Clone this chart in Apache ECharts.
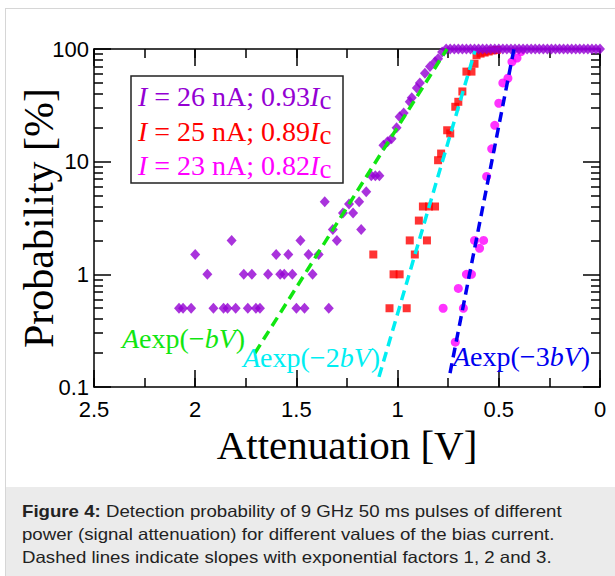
<!DOCTYPE html>
<html><head><meta charset="utf-8">
<script src="https://cdn.jsdelivr.net/npm/echarts@6/dist/echarts.min.js"></script>
<style>
html,body{margin:0;padding:0;width:615px;height:576px;overflow:hidden;background:#fff;}
#frame{position:absolute;left:5px;top:8px;width:640px;height:600px;border-left:1px solid #d6d6d6;border-top:1px solid #d6d6d6;}
#chart{position:absolute;left:0;top:0;width:615px;height:487px;}
#capbox{position:absolute;left:6px;top:487px;width:609px;height:89px;background:#ebebeb;}
#caption{position:absolute;left:22px;top:500px;font-family:'Liberation Sans',Arial,sans-serif;font-size:16.5px;line-height:23px;color:#222;white-space:nowrap;transform:scaleX(1.13);transform-origin:0 0;}
</style></head>
<body>
<div id="frame"></div>
<div id="chart"></div>
<div id="capbox"></div>
<div id="caption"><b>Figure 4:</b> Detection probability of 9 GHz 50 ms pulses of different<br>power (signal attenuation) for different values of the bias current.<br>Dashed lines indicate slopes with exponential factors 1, 2 and 3.</div>
<script>
// ---- data (attenuation V, probability %) ----
const purpleI26 = [
 [2.08,0.5],[2.06,0.5],[2.02,0.5],[1.91,0.5],[1.86,0.5],[1.84,0.5],[1.80,0.5],[1.74,0.5],[1.70,0.5],[1.68,0.5],[1.50,0.5],[1.46,0.5],[1.34,0.5],
 [1.94,1],[1.76,1],[1.72,1],[1.64,1],[1.58,1],[1.56,1],[1.52,1],[1.42,1],
 [2.00,1.5],[1.60,1.5],[1.54,1.5],[1.44,1.5],[1.39,1.5],
 [1.82,2],[1.48,2],[1.30,2],
 [1.32,2.5],[1.18,2.5],
 [1.27,3.5],[1.22,3.5],
 [1.24,4.2],[1.36,4.4],[1.19,4.4],
 [1.155,5.4],
 [1.13,7.5],[1.11,7.5],[1.09,7.5],
 [1.07,14],[1.05,15],[1.03,16],[1.005,20],[0.99,25],[0.97,27],[0.94,34],[0.93,37],[0.905,45],[0.89,50],[0.865,61],[0.84,70],[0.815,77],[0.80,82],[0.78,94],
 [0.76,100],[0.74,100],[0.72,100],[0.70,100],[0.68,100],[0.66,100],[0.64,100],[0.62,100],[0.60,100],[0.58,100],
 [0.56,100],[0.54,100],[0.52,100],[0.50,100],[0.48,100],[0.46,100],[0.44,100],[0.42,100],[0.40,100],[0.38,100],
 [0.36,100],[0.34,100],[0.32,100],[0.30,100],[0.28,100],[0.26,100],[0.24,100],[0.22,100],[0.20,100],[0.18,100],
 [0.16,100],[0.14,100],[0.12,100],[0.10,100],[0.08,100],[0.06,100],[0.04,100],[0.02,100],[0.00,100]
];
const redI25 = [
 [1.04,0.5],[0.955,0.5],[1.02,1],[0.99,1],[1.12,1.5],[0.915,1.5],[0.94,2],[0.855,2],[0.895,3],
 [0.875,4],[0.845,4],[0.815,4],[0.80,10.3],[0.785,11.8],[0.755,19],[0.74,17.8],[0.715,30.7],[0.70,34],[0.68,42],
 [0.66,63],[0.635,63],[0.62,74],[0.61,88],[0.59,91],[0.57,93],[0.55,95],[0.53,97],[0.51,98]
];
const magentaI23 = [
 [0.775,0.5],[0.715,0.25],[0.675,0.5],[0.70,0.75],[0.66,1],[0.635,1],[0.62,2],[0.595,1.7],[0.575,2],
 [0.56,7.4],[0.535,13],[0.52,21],[0.50,33],[0.48,50],[0.455,55],[0.435,77],[0.41,83],[0.39,95]
];
const fitFactor1 = [[1.705,0.2],[0.756,100]];
const fitFactor2 = [[1.092,0.123],[0.618,96]];
const fitFactor3 = [[0.741,0.133],[0.425,100]];
const minorTickValuesY = [0.2,0.3,0.4,0.5,0.6,0.7,0.8,0.9,2,3,4,5,6,7,8,9,20,30,40,50,60,70,80,90];
const legendLines = [
 '{i|I} = 26 nA; 0.93{i|I}{s|c}',
 '{i|I} = 25 nA; 0.89{i|I}{s|c}',
 '{i|I} = 23 nA; 0.82{i|I}{s|c}'
];
const fitLabels = ['{i|A}exp(−{i|bV})','{i|A}exp(−2{i|bV})','{i|A}exp(−3{i|bV})'];
const xTitle = 'Attenuation [V]';
const yTitle = 'Probability [%]';

const C_PURPLE='#9400D3', C_RED='#FF0000', C_MAG='#FF00FF', C_GREEN='#11E611', C_CYAN='#00EEF2', C_BLUE='#0000F0';
const SANS="'Liberation Sans', Arial, sans-serif";
const SERIF="'Liberation Serif', 'Times New Roman', serif";
const lineSt={color:'#000',width:1.5};

function xAx(pos, major){
  return {type:'value', position:pos, inverse:true, min:0, max:2.5, interval: major?0.5:0.25,
    axisLine:{show:major, onZero:false, lineStyle:lineSt},
    axisTick:{show:true, inside:true, length: major?17:9, lineStyle:lineSt},
    axisLabel:{show: major && pos==='bottom', fontFamily:SANS, fontSize:22, color:'#000', margin:11,
      formatter:v=>String(+v.toFixed(2))},
    splitLine:{show:false}, minorTick:{show:false}};
}
function yAx(pos, major){
  const a = {type:'log', logBase:10, position:pos, min:0.1, max:100,
    axisLine:{show:major, onZero:false, lineStyle:lineSt},
    axisTick:{show:true, inside:true, length: major?17:9, lineStyle:lineSt},
    axisLabel:{show: major && pos==='left', fontFamily:SANS, fontSize:22, color:'#000', margin:5,
      formatter:v=>String(+(+v).toPrecision(3))},
    splitLine:{show:false}, minorTick:{show:false}};
  if(!major){ a.axisTick.customValues = minorTickValuesY; }
  return a;
}
const xAxes=[xAx('bottom',true),xAx('bottom',false),xAx('top',true),xAx('top',false)];
xAxes[0].name=xTitle; xAxes[0].nameLocation='middle'; xAxes[0].nameGap=20;
xAxes[0].nameTextStyle={fontFamily:SERIF,fontSize:41,color:'#000'};
const yAxes=[yAx('left',true),yAx('left',false),yAx('right',true),yAx('right',false)];
yAxes[0].name=yTitle; yAxes[0].nameLocation='middle'; yAxes[0].nameGap=34; yAxes[0].nameMoveOverlap=false;
yAxes[0].nameTextStyle={fontFamily:SERIF,fontSize:42,color:'#000'};

function fitLine(data,color){
  return {type:'line', data:data, symbol:'none', silent:true, z:5, clip:true,
    lineStyle:{color:color,width:3.5,type:[10,6]}};
}
const richBase=(color)=>({
  i:{fontStyle:'italic',fontFamily:SERIF,fontSize:28,color:color,lineHeight:34},
  s:{fontFamily:SERIF,fontSize:27,color:color,lineHeight:22,verticalAlign:'bottom'}
});
function txt(str,x,y,color){
  return {type:'text', x:x, y:y, z:100, style:{text:str, fill:color, font:'28px '+SERIF,
    fontFamily:SERIF, fontSize:28, lineHeight:34, verticalAlign:'middle', align:'left', rich:richBase(color)}};
}
const chart = echarts.init(document.getElementById('chart'), null, {renderer:'svg'});
chart.setOption({
  animation:false,
  backgroundColor:'transparent',
  grid:{left:94,right:15,top:49,bottom:100,containLabel:false,outerBoundsMode:'none'},
  xAxis:xAxes, yAxis:yAxes,
  series:[
    {type:'scatter',name:'I=25',data:redI25,symbol:'rect',symbolSize:8,itemStyle:{color:C_RED},z:2},
    {type:'scatter',name:'I=23',data:magentaI23,symbol:'circle',symbolSize:9,itemStyle:{color:C_MAG},z:2},
    {type:'scatter',name:'I=26',data:purpleI26,symbol:'diamond',symbolSize:[10,11],itemStyle:{color:C_PURPLE},z:3},
    fitLine(fitFactor1,C_GREEN), fitLine(fitFactor2,C_CYAN), fitLine(fitFactor3,C_BLUE)
  ],
  graphic:[
    {type:'rect', shape:{x:131,y:76,width:212,height:107}, z:90, style:{fill:'#fff',stroke:'#222',lineWidth:1.5}},
    txt(legendLines[0],138,96,C_PURPLE),
    txt(legendLines[1],138,131,C_RED),
    txt(legendLines[2],138,165,C_MAG),
    txt(fitLabels[0],122,338,C_GREEN),
    txt(fitLabels[1],243,357,C_CYAN),
    txt(fitLabels[2],453,356,C_BLUE)
  ]
});
</script>
</body></html>
